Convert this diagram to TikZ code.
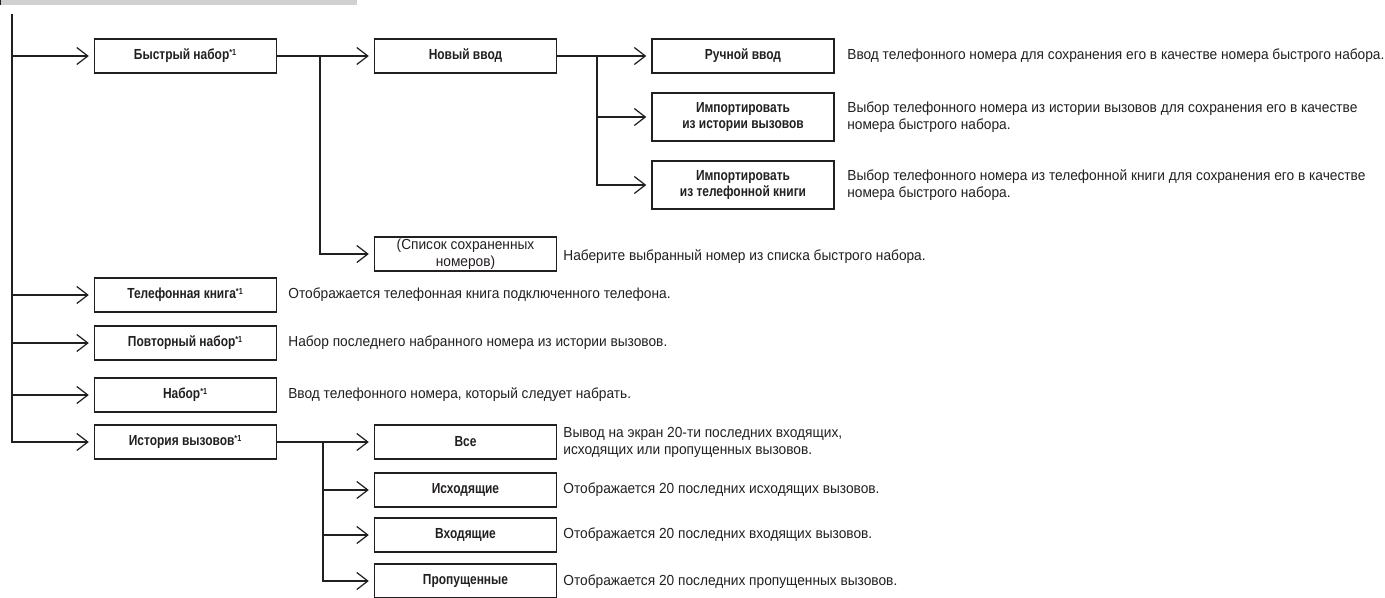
\documentclass[tikz,border=0pt]{standalone}
\usepackage{fontspec}
\setmainfont{Liberation Sans}[FakeStretch=0.94]
\newfontfamily\labelfont{Liberation Sans}[FakeStretch=0.82]
\usetikzlibrary{arrows.meta, positioning, calc}
\definecolor{barGray}{RGB}{208,208,208}
\definecolor{inkBlack}{RGB}{35,31,32}
\newcommand{\fnmark}{\textsuperscript{\fontsize{5}{5}\selectfont *1}}

\begin{document}
\begin{tikzpicture}[
    box/.style={draw=inkBlack, line width=0.8pt, rectangle, minimum width=3.64cm, minimum height=0.68cm, inner sep=1pt, align=center, font=\fontsize{8.3}{9.6}\selectfont\labelfont\bfseries, text=inkBlack},
    listbox/.style={box, font=\fontsize{8.3}{9.6}\selectfont\mdseries},
    desc/.style={anchor=west, inner sep=0pt, align=left, font=\fontsize{8.3}{9.6}\selectfont, text=inkBlack},
    line/.style={draw=inkBlack, line width=0.9pt},
    arr/.style={line, -{Straight Barb[length=0.22cm, width=0.34cm, line width=0.7pt]}, shorten >=0.1cm}
]

\useasboundingbox (0,0) rectangle (27.7,-11.94);

% Header bar
\fill[barGray] (0,0) rectangle (7.14,-0.1);
\draw[inkBlack, line width=0.6pt] (0.01,0) -- (0.01,-0.1);

% First column
\node[box] (quick) at (3.71,-1.12) {Быстрый набор\fnmark};
\node[box] (phonebook) at (3.71,-5.90) {Телефонная книга\fnmark};
\node[box] (redial) at (3.71,-6.86) {Повторный набор\fnmark};
\node[box] (dial) at (3.71,-7.90) {Набор\fnmark};
\node[box] (history) at (3.71,-8.84) {История вызовов\fnmark};

% Second column
\node[box] (newentry) at (9.31,-1.12) {Новый ввод};
\node[listbox] (stored) at (9.31,-5.08) {(Список сохраненных\\номеров)};
\node[box] (all) at (9.31,-8.84) {Все};
\node[box] (outgoing) at (9.31,-9.80) {Исходящие};
\node[box] (incoming) at (9.31,-10.70) {Входящие};
\node[box] (missed) at (9.31,-11.62) {Пропущенные};

% Third column
\node[box] (manual) at (14.86,-1.12) {Ручной ввод};
\node[box, minimum height=0.96cm] (imphist) at (14.86,-2.34) {Импортировать\\из истории вызовов};
\node[box, minimum height=0.96cm] (impbook) at (14.86,-3.70) {Импортировать\\из телефонной книги};

% Descriptions
\node[desc] (dmanual) at (16.94,-1.12) {Ввод телефонного номера для сохранения его в качестве номера быстрого набора.};
\node[desc] (dimphist) at (16.94,-2.34) {Выбор телефонного номера из истории вызовов для сохранения его в качестве\\номера быстрого набора.};
\node[desc] (dimpbook) at (16.94,-3.70) {Выбор телефонного номера из телефонной книги для сохранения его в качестве\\номера быстрого набора.};
\node[desc] (dstored) at (11.26,-5.14) {Наберите выбранный номер из списка быстрого набора.};
\node[desc] (dphonebook) at (5.76,-5.90) {Отображается телефонная книга подключенного телефона.};
\node[desc] (dredial) at (5.76,-6.86) {Набор последнего набранного номера из истории вызовов.};
\node[desc] (ddial) at (5.76,-7.90) {Ввод телефонного номера, который следует набрать.};
\node[desc] (dall) at (11.26,-8.84) {Вывод на экран 20-ти последних входящих,\\исходящих или пропущенных вызовов.};
\node[desc] (doutgoing) at (11.26,-9.80) {Отображается 20 последних исходящих вызовов.};
\node[desc] (dincoming) at (11.26,-10.70) {Отображается 20 последних входящих вызовов.};
\node[desc] (dmissed) at (11.26,-11.64) {Отображается 20 последних пропущенных вызовов.};

% Trunk
\coordinate (trunk) at (0.24,-0.28);
\draw[arr] (trunk) |- (history.west);
\draw[arr] (quick.west -| trunk) -- (quick.west);
\draw[arr] (phonebook.west -| trunk) -- (phonebook.west);
\draw[arr] (redial.west -| trunk) -- (redial.west);
\draw[arr] (dial.west -| trunk) -- (dial.west);

% Branches
\coordinate (bquick) at (6.40,-1.12);
\draw[line] (quick.east) -- (bquick);
\draw[arr] (bquick) -- (newentry.west);
\draw[arr] (bquick) |- (stored.west);

\coordinate (bnew) at (11.94,-1.12);
\draw[line] (newentry.east) -- (bnew);
\draw[arr] (bnew) -- (manual.west);
\draw[arr] (bnew) |- (imphist.west);
\draw[arr] (bnew) |- (impbook.west);

\coordinate (bhist) at (6.46,-8.84);
\draw[line] (history.east) -- (bhist);
\draw[arr] (bhist) -- (all.west);
\draw[arr] (bhist) |- (outgoing.west);
\draw[arr] (bhist) |- (incoming.west);
\draw[arr] (bhist) |- (missed.west);

\end{tikzpicture}
\end{document}
